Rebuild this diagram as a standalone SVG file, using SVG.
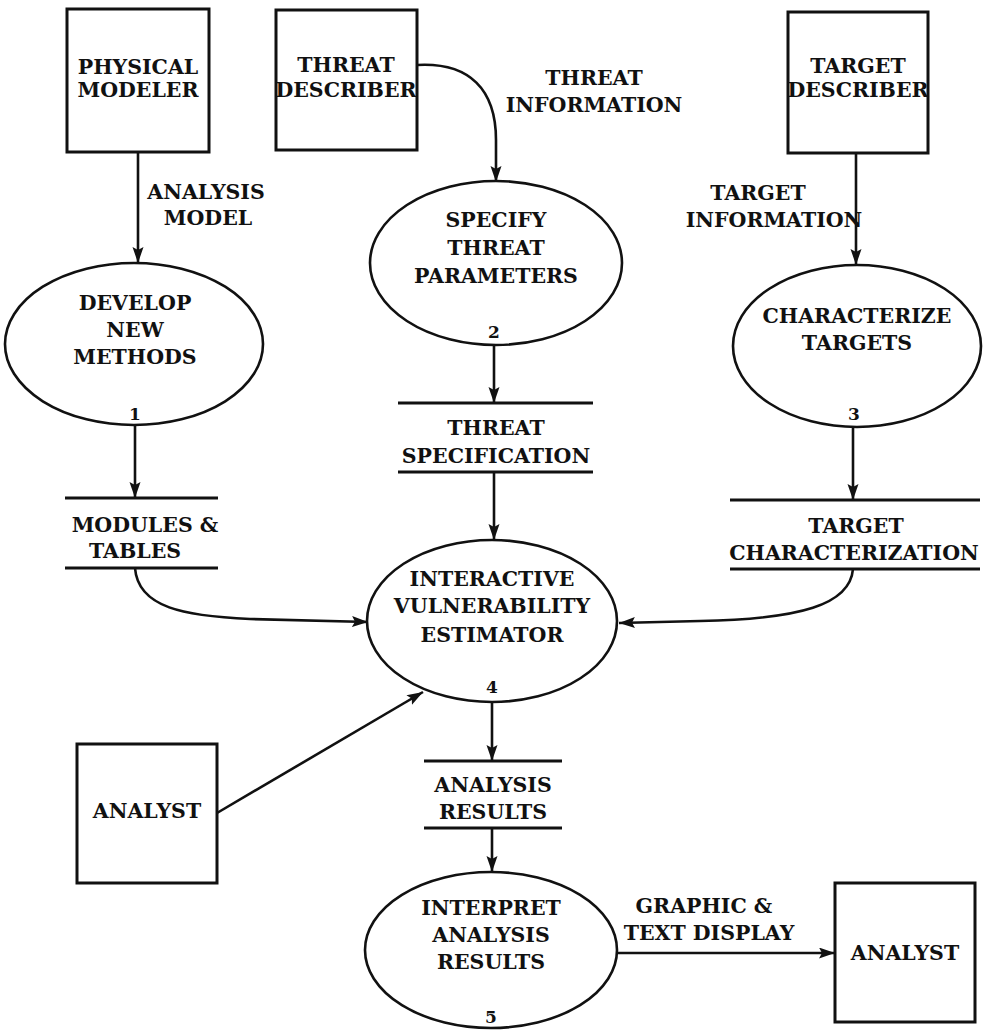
<svg xmlns="http://www.w3.org/2000/svg" width="983" height="1031" viewBox="0 0 983 1031">
<style>
  .box { fill: #fff; stroke: #111; stroke-width: 3; }
  .proc { fill: #fff; stroke: #111; stroke-width: 2.6; }
  .store { stroke: #111; stroke-width: 3; }
  .t { font-family: "DejaVu Serif", "Liberation Serif", serif; font-size: 20.5px; font-weight: bold; fill: #111; text-anchor: middle; }
  .n { font-family: "DejaVu Serif", "Liberation Serif", serif; font-size: 17px; font-weight: bold; fill: #111; text-anchor: middle; }
  .c { fill: none; stroke: #111; stroke-width: 2.6; marker-end: url(#ah); }
</style>
<defs>
  <marker id="ah" markerUnits="userSpaceOnUse" markerWidth="17" markerHeight="12" refX="16" refY="5.5" orient="auto">
    <path d="M0,0 L16,5.5 L0,11 L3,5.5 Z" fill="#111"/>
  </marker>
</defs>
<rect width="983" height="1031" fill="#fff"/>

<g id="connectors">
  <path class="c" d="M138,152 L138,263"/>
  <path class="c" d="M417,65 C470,62 496,90 496,140 L496,182"/>
  <path class="c" d="M856,153 L856,265"/>
  <path class="c" d="M135,425 L135,498"/>
  <path class="c" d="M494,345 L494,403"/>
  <path class="c" d="M853,427 L853,500"/>
  <path class="c" d="M494,472 L494,540"/>
  <path class="c" d="M135,568 C138,608 185,616 250,619 L368,622"/>
  <path class="c" d="M853,569 C850,605 800,619 700,621 L619,623"/>
  <path class="c" d="M217,813 L423,692"/>
  <path class="c" d="M492,702 L492,761"/>
  <path class="c" d="M492,828 L492,872"/>
  <path class="c" d="M617,953 L835,953"/>
</g>

<g id="label-analysis-model">
  <text class="t" x="206" y="199">ANALYSIS</text>
  <text class="t" x="208" y="225">MODEL</text>
</g>
<g id="label-threat-information">
  <text class="t" x="594" y="85">THREAT</text>
  <text class="t" x="594" y="112">INFORMATION</text>
</g>
<g id="label-target-information">
  <text class="t" x="758" y="200">TARGET</text>
  <text class="t" x="774" y="227">INFORMATION</text>
</g>
<g id="label-graphic-text">
  <text class="t" x="704" y="913">GRAPHIC &amp;</text>
  <text class="t" x="709" y="940">TEXT DISPLAY</text>
</g>

<g id="physical-modeler">
  <rect class="box" x="67" y="9" width="142" height="143"/>
  <text class="t" x="138" y="74">PHYSICAL</text>
  <text class="t" x="138" y="97">MODELER</text>
</g>
<g id="threat-describer">
  <rect class="box" x="276" y="10" width="141" height="140"/>
  <text class="t" x="346" y="72">THREAT</text>
  <text class="t" x="346" y="97">DESCRIBER</text>
</g>
<g id="target-describer">
  <rect class="box" x="788" y="12" width="140" height="141"/>
  <text class="t" x="858" y="73">TARGET</text>
  <text class="t" x="858" y="97">DESCRIBER</text>
</g>

<g id="develop-new-methods">
  <ellipse class="proc" cx="134" cy="344" rx="129" ry="81"/>
  <text class="t" x="135" y="310">DEVELOP</text>
  <text class="t" x="135" y="337">NEW</text>
  <text class="t" x="135" y="364">METHODS</text>
  <text class="n" x="135" y="420">1</text>
</g>
<g id="specify-threat-parameters">
  <ellipse class="proc" cx="496" cy="263" rx="126" ry="82"/>
  <text class="t" x="496" y="227">SPECIFY</text>
  <text class="t" x="496" y="255">THREAT</text>
  <text class="t" x="496" y="283">PARAMETERS</text>
  <text class="n" x="494" y="338">2</text>
</g>
<g id="characterize-targets">
  <ellipse class="proc" cx="857" cy="346" rx="124" ry="81"/>
  <text class="t" x="857" y="323">CHARACTERIZE</text>
  <text class="t" x="857" y="350">TARGETS</text>
  <text class="n" x="854" y="420">3</text>
</g>

<g id="modules-tables">
  <line class="store" x1="65" y1="498" x2="218" y2="498"/>
  <line class="store" x1="65" y1="568" x2="218" y2="568"/>
  <text class="t" x="145" y="532">MODULES &amp;</text>
  <text class="t" x="135" y="558">TABLES</text>
</g>
<g id="threat-specification">
  <line class="store" x1="398" y1="403" x2="593" y2="403"/>
  <line class="store" x1="398" y1="472" x2="593" y2="472"/>
  <text class="t" x="496" y="435">THREAT</text>
  <text class="t" x="496" y="463">SPECIFICATION</text>
</g>
<g id="target-characterization">
  <line class="store" x1="730" y1="500" x2="980" y2="500"/>
  <line class="store" x1="730" y1="569" x2="980" y2="569"/>
  <text class="t" x="856" y="533">TARGET</text>
  <text class="t" x="854" y="560">CHARACTERIZATION</text>
</g>

<g id="interactive-vulnerability-estimator">
  <ellipse class="proc" cx="492" cy="621" rx="125" ry="81"/>
  <text class="t" x="492" y="586">INTERACTIVE</text>
  <text class="t" x="492" y="613">VULNERABILITY</text>
  <text class="t" x="492" y="642">ESTIMATOR</text>
  <text class="n" x="492" y="693">4</text>
</g>

<g id="analyst-left">
  <rect class="box" x="77" y="744" width="140" height="139"/>
  <text class="t" x="147" y="818">ANALYST</text>
</g>

<g id="analysis-results">
  <line class="store" x1="424" y1="761" x2="562" y2="761"/>
  <line class="store" x1="424" y1="828" x2="562" y2="828"/>
  <text class="t" x="493" y="792">ANALYSIS</text>
  <text class="t" x="493" y="819">RESULTS</text>
</g>

<g id="interpret-analysis-results">
  <ellipse class="proc" cx="491" cy="950" rx="126" ry="78"/>
  <text class="t" x="491" y="915">INTERPRET</text>
  <text class="t" x="491" y="942">ANALYSIS</text>
  <text class="t" x="491" y="969">RESULTS</text>
  <text class="n" x="491" y="1023">5</text>
</g>

<g id="analyst-right">
  <rect class="box" x="835" y="883" width="140" height="139"/>
  <text class="t" x="905" y="960">ANALYST</text>
</g>
</svg>
